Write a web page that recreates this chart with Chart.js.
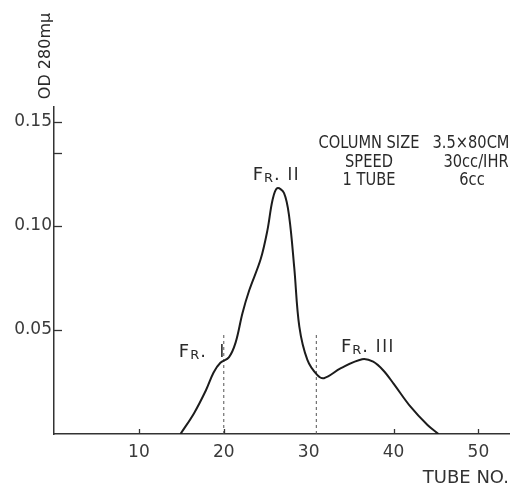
<!DOCTYPE html>
<html>
<head>
<meta charset="utf-8">
<script src="https://cdn.jsdelivr.net/npm/chart.js@4/dist/chart.umd.min.js"></script>
<style>
  html, body { margin: 0; padding: 0; background: #fff; }
  canvas { display: block; }
</style>
</head>
<body>
<canvas id="chart" width="521" height="492"></canvas>
<script>
/* Elution profile: OD 280 mμ vs tube number. */
const tubeNo = [14.9, 16.5, 17.9, 18.8, 19.6, 20.6, 21.4, 22.2, 23.0, 24.35, 25.15, 25.75, 26.3, 27.1, 27.7, 28.3, 28.9, 29.85, 31.0, 31.8, 33.8, 36.3, 37.6, 38.8, 40.0, 42.0, 44.0, 45.3];
const od280  = [0, 0.010, 0.021, 0.0295, 0.0342, 0.0368, 0.044, 0.058, 0.069, 0.084, 0.098, 0.1125, 0.118, 0.1157, 0.1045, 0.080, 0.0516, 0.0356, 0.0284, 0.0268, 0.0316, 0.0359, 0.0347, 0.0305, 0.0242, 0.0131, 0.0043, 0];

const cutTubes = [20, 30.9];        // dashed fraction boundaries
const cutHeight = 0.049;

const xTickLabels = [10, 20, 30, 40, 50];
const xTickMarks  = [10, 20, 40, 50];
const yTickLabels = [0.05, 0.10, 0.15];
const yTickMarks  = [0.05, 0.10, 0.135, 0.15];

const fractionNames = ['I', 'II', 'III'];
const fractionTube  = [14.7, 23.4, 33.8];
const fractionOD    = [0.037, 0.122, 0.0394];

const infoLeft  = ['COLUMN SIZE', 'SPEED', '1 TUBE'];
const infoRight = ['3.5×80CM', '30cc/IHR', '6cc'];

const FONT = "'DejaVu Sans', sans-serif";
const INK = '#2a2a2a';

function squeezeText(ctx, text, x, y, sx, align) {
  ctx.save();
  ctx.translate(x, y);
  ctx.scale(sx, 1);
  ctx.textAlign = align || 'left';
  ctx.fillText(text, 0, 0);
  ctx.restore();
}

const decor = {
  id: 'decor',
  afterDatasetsDraw(chart) {
    const { ctx, chartArea: a, scales: { x, y } } = chart;
    ctx.save();
    // inward tick marks
    ctx.strokeStyle = '#333'; ctx.lineWidth = 1.3;
    for (const v of yTickMarks) {
      const py = Math.round(y.getPixelForValue(v)) + 0.5;
      ctx.beginPath(); ctx.moveTo(a.left, py); ctx.lineTo(a.left + 8, py); ctx.stroke();
    }
    for (const v of xTickMarks) {
      const px = Math.round(x.getPixelForValue(v)) + 0.5;
      ctx.beginPath(); ctx.moveTo(px, a.bottom); ctx.lineTo(px, a.bottom - 5); ctx.stroke();
    }

    // y title, up at the top of the axis
    ctx.fillStyle = INK;
    ctx.save();
    ctx.translate(a.left - 8, a.top - 51);
    ctx.rotate(-Math.PI / 2);
    ctx.font = '16px ' + FONT;
    ctx.textAlign = 'center'; ctx.textBaseline = 'middle';
    ctx.fillText('OD 280mμ', 0, 0);
    ctx.restore();

    // fraction labels  F_R. I / II / III
    ctx.textBaseline = 'alphabetic'; ctx.textAlign = 'left';
    fractionNames.forEach((nm, i) => {
      let px = x.getPixelForValue(fractionTube[i]);
      const py = y.getPixelForValue(fractionOD[i]);
      ctx.font = '18px ' + FONT;
      ctx.fillText('F', px, py); px += ctx.measureText('F').width + 1;
      ctx.font = '13px ' + FONT;
      ctx.fillText('R', px, py + 2); px += ctx.measureText('R').width + 1;
      ctx.font = '18px ' + FONT;
      ctx.fillText('.', px, py); px += ctx.measureText('. ').width + (i === 0 ? 8 : 2);
      squeezeText(ctx, nm.split('').join('\u200a'), px, py, 0.9);
    });

    // run conditions block
    ctx.font = '17px ' + FONT;
    const rightCx = [471, 476, 472];
    infoLeft.forEach((t, i) => {
      const by = 148 + i * 18.5;
      squeezeText(ctx, t, 369, by, 0.86, 'center');
      squeezeText(ctx, infoRight[i], rightCx[i], by, 0.86, 'center');
    });
    ctx.restore();
  }
};

new Chart(document.getElementById('chart'), {
  type: 'line',
  data: {
    datasets: [
      {
        data: tubeNo.map((t, i) => ({ x: t, y: od280[i] })),
        borderColor: '#1c1c1c', borderWidth: 2, pointRadius: 0,
        tension: 0.35, fill: false,
      },
      ...cutTubes.map((t) => ({
        data: [{ x: t, y: 0 }, { x: t, y: cutHeight }],
        borderColor: '#555', borderWidth: 1, borderDash: [3, 3], pointRadius: 0, fill: false,
      })),
    ],
  },
  options: {
    responsive: false, animation: false,
    layout: { padding: { top: 107, right: 12, left: 0, bottom: 0 } },
    plugins: { legend: { display: false }, tooltip: { enabled: false } },
    scales: {
      x: {
        type: 'linear', min: 0, max: 53.6,
        afterBuildTicks: (s) => { s.ticks = xTickLabels.map((v) => ({ value: v })); },
        afterFit: (s) => { s.height = 58; },
        grid: { drawOnChartArea: false, drawTicks: false },
        border: { color: '#333', width: 1.5 },
        ticks: { padding: 8, autoSkip: false, maxRotation: 0, color: '#3a3a3a', font: { family: FONT, size: 17 } },
        title: { display: true, text: 'TUBE NO.', align: 'end', color: '#333',
                 font: { family: FONT, size: 18 }, padding: { top: 0, bottom: 3 } },
      },
      y: {
        min: 0, max: 0.157,
        afterBuildTicks: (s) => { s.ticks = yTickLabels.map((v) => ({ value: v })); },
        afterFit: (s) => { s.width = 54; },
        grid: { drawOnChartArea: false, drawTicks: false },
        border: { color: '#333', width: 1.5 },
        ticks: { padding: 2, color: '#3a3a3a', font: { family: FONT, size: 17 }, callback: (v) => v.toFixed(2) },
      },
    },
  },
  plugins: [decor],
});
</script>
</body>
</html>
